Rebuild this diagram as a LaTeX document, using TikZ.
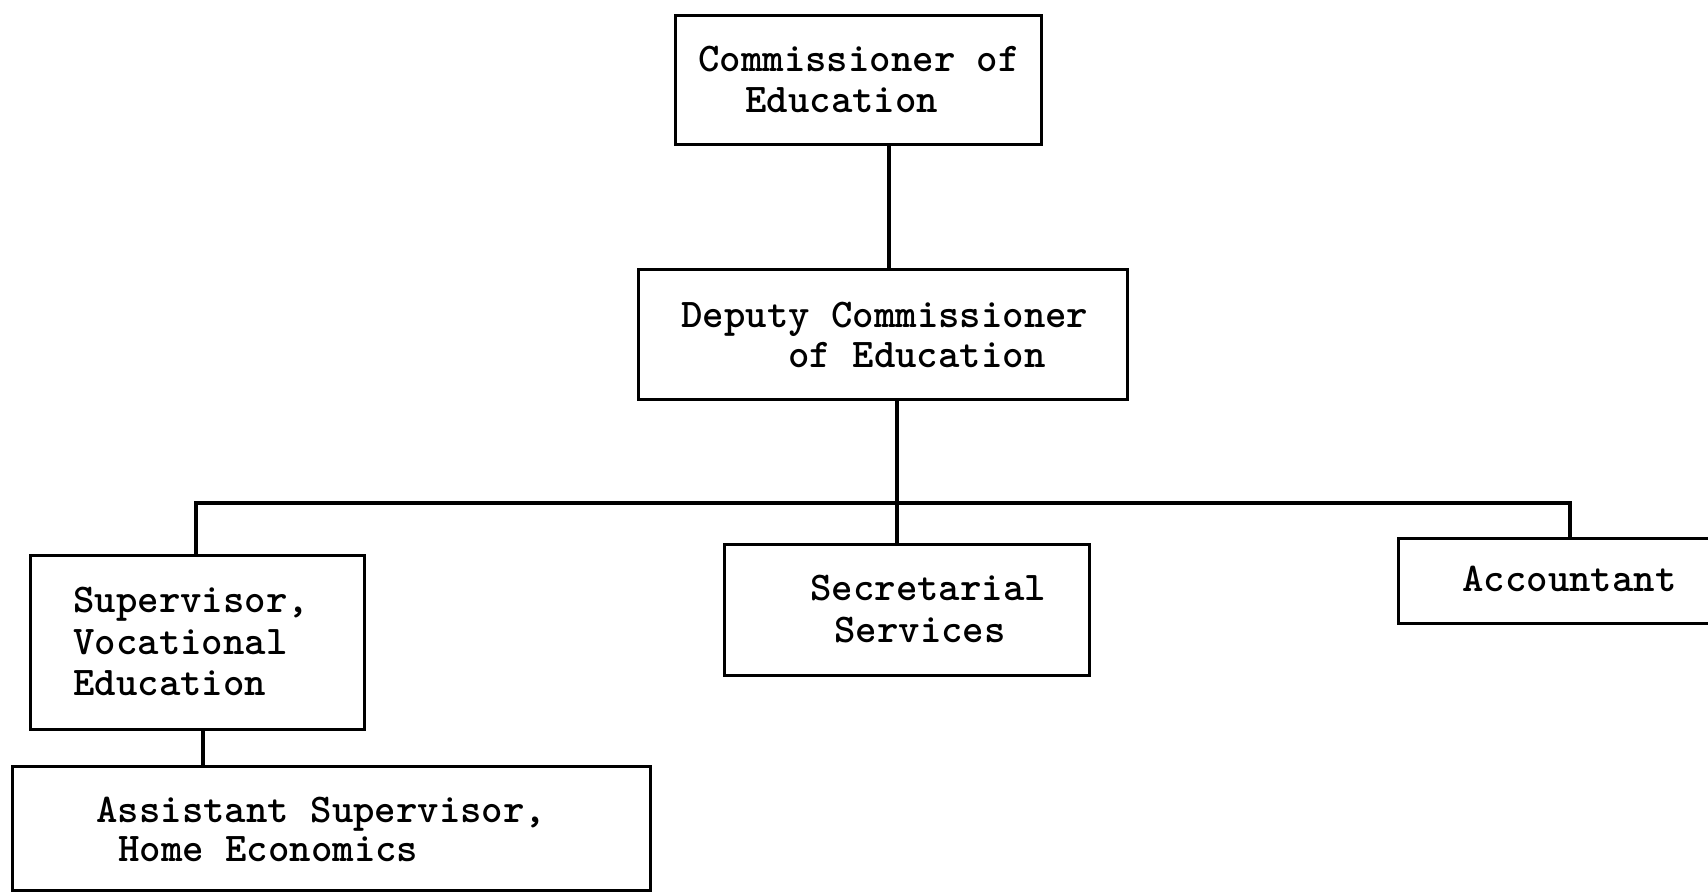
\documentclass[tikz,border=0pt]{standalone}
\begin{document}
\begin{tikzpicture}[x=0.5pt,y=-0.5pt,
  box/.style={draw=black,line width=1.7pt,rectangle,anchor=north west,inner sep=0pt},
  conn/.style={draw=black,line width=1.7pt},
  lbl/.style={anchor=base west,inner sep=0pt,font=\ttfamily\bfseries\fontsize{20.4}{24}\selectfont}]
\useasboundingbox (0,0) rectangle (1708,892);
\begin{scope}
\clip (0,0) rectangle (1708,892);
% boxes
\node[box,minimum width=183pt,minimum height=64.5pt] (comm) at (674,14) {};
\node[box,minimum width=244.5pt,minimum height=65pt] (dep) at (637,268) {};
\node[box,minimum width=167pt,minimum height=87pt] (sup) at (29,554) {};
\node[box,minimum width=319pt,minimum height=62pt] (asst) at (11,765) {};
\node[box,minimum width=182.5pt,minimum height=65.5pt] (sec) at (723,543) {};
\node[box,minimum width=174pt,minimum height=42.5pt] (acc) at (1397,537) {};
% labels
\node[lbl] (comm1) at (698,72) {Commissioner of};
\node[lbl] (comm2) at (745,113) {Education};
\node[lbl] (dep1) at (681,328) {Deputy Commissioner};
\node[lbl] (dep2) at (788,368) {of Education};
\node[lbl] (sup1) at (73,612) {Supervisor,};
\node[lbl] (sup2) at (73,654) {Vocational};
\node[lbl] (sup3) at (73,696) {Education};
\node[lbl] (asst1) at (96,822) {Assistant Supervisor,};
\node[lbl] (asst2) at (118,861) {Home Economics};
\node[lbl] (sec1) at (810,601) {Secretarial};
\node[lbl] (sec2) at (834,642) {Services};
\node[lbl] (acc1) at (1462,592) {Accountant};
% connector positions
\coordinate (xa) at (889,0);
\coordinate (xb) at (897,0);
\coordinate (xc) at (203,0);
\coordinate (busL) at (196,503);
\coordinate (busR) at (1570,503);
% connectors
\draw[conn] (comm.south -| xa) -- (dep.north -| xa);
\draw[conn] (dep.south -| xb) -- (sec.north -| xb);
\draw[conn] (sup.north -| busL) -- (busL) -- (busR) -- (acc.north -| busR);
\draw[conn] (sup.south -| xc) -- (asst.north -| xc);
\end{scope}
\end{tikzpicture}
\end{document}
